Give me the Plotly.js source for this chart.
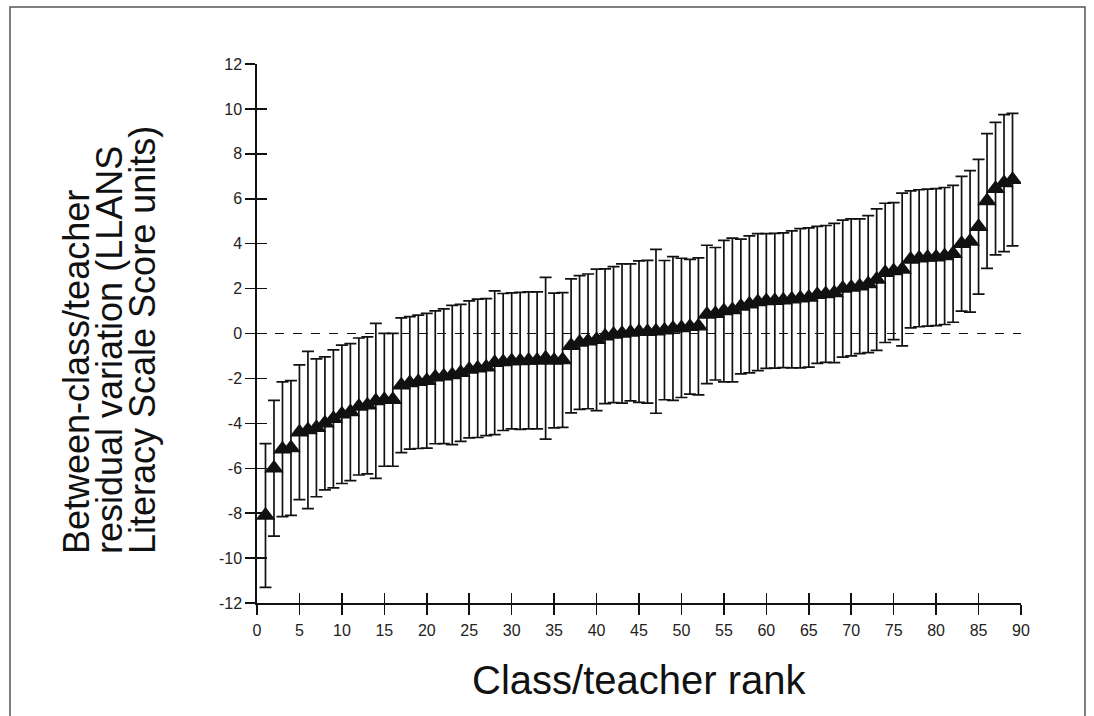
<!DOCTYPE html>
<html>
<head>
<meta charset="utf-8">
<script src="https://cdn.plot.ly/plotly-3.0.1.min.js"></script>
<style>
  html, body { margin: 0; padding: 0; background: #fff; }
  #chart { width: 1094px; height: 716px; }
</style>
</head>
<body>
<div id="chart"></div>
<script>
// Class/teacher rank
const ranks = [];
for (let i = 1; i <= 89; i++) ranks.push(i);

// Residual (LLANS Literacy Scale Score units)
const residuals = [
  -8.1, -6.0, -5.15, -5.1, -4.4, -4.3, -4.2, -4.0, -3.8, -3.6,
  -3.5, -3.25, -3.2, -3.0, -2.95, -2.95, -2.3, -2.2, -2.15, -2.1,
  -1.95, -1.9, -1.85, -1.75, -1.6, -1.55, -1.5, -1.3, -1.27, -1.22,
  -1.22, -1.2, -1.2, -1.1, -1.2, -1.18, -0.55, -0.4, -0.35, -0.28,
  -0.12, -0.05, 0.0, 0.05, 0.08, 0.08, 0.1, 0.15, 0.22, 0.25,
  0.3, 0.32, 0.85, 0.88, 1.0, 1.05, 1.2, 1.3, 1.4, 1.45,
  1.46, 1.48, 1.52, 1.57, 1.6, 1.72, 1.76, 1.8, 2.0, 2.05,
  2.1, 2.2, 2.4, 2.7, 2.78, 2.85, 3.3, 3.35, 3.38, 3.4,
  3.45, 3.55, 4.0, 4.1, 4.75, 5.9, 6.45, 6.7, 6.85
];

// Half-width of the error bars
const errors = [
  3.2, 3.02, 3.0, 3.0, 3.0, 3.5, 3.07, 2.96, 3.07, 3.08,
  3.05, 3.05, 3.05, 3.45, 2.96, 2.96, 3.0, 2.95, 2.97, 3.0,
  2.96, 3.0, 3.1, 3.05, 3.05, 3.08, 3.05, 3.2, 3.05, 3.03,
  3.05, 3.05, 3.05, 3.6, 3.0, 3.0, 2.98, 2.98, 3.0, 3.15,
  3.0, 3.03, 3.1, 3.05, 3.15, 3.18, 3.65, 3.1, 3.2, 3.1,
  3.0, 3.05, 3.08, 2.95, 3.15, 3.2, 3.0, 3.05, 3.05, 3.0,
  3.0, 3.0, 3.05, 3.1, 3.1, 3.05, 3.05, 3.1, 3.05, 3.05,
  3.0, 3.05, 3.15, 3.1, 3.05, 3.4, 3.05, 3.05, 3.05, 3.05,
  3.05, 3.05, 3.0, 3.15, 3.0, 3.0, 2.95, 3.05, 2.95
];

const xTickVals = [0, 5, 10, 15, 20, 25, 30, 35, 40, 45, 50, 55, 60, 65, 70, 75, 80, 85, 90];
const yTickVals = [-12, -10, -8, -6, -4, -2, 0, 2, 4, 6, 8, 10, 12];
const yTickText = ["-12", "-10", "-8", "-6", "-4", "-2", "0", "2", "4", "6", "8", "10", "12"];

const xTitle = 'Class/teacher rank';
const yTitleLines = ['Between-class/teacher', 'residual variation (LLANS', 'Literacy Scale Score units)'];

const ink = '#111111';
const fontFamily = 'Liberation Sans, Arial, Helvetica, sans-serif';

const traces = [
  {
    type: 'scatter',
    mode: 'markers',
    x: ranks,
    y: residuals,
    error_y: {
      type: 'data',
      array: errors,
      visible: true,
      color: ink,
      thickness: 1.7,
      width: 6
    },
    marker: { symbol: 'triangle-up', size: 17, color: ink, line: { width: 0 } },
    showlegend: false,
    hoverinfo: 'x+y'
  },
  {
    // invisible companion so the overlay axes (inner tick halves) are drawn
    type: 'scatter',
    mode: 'markers',
    x: ranks,
    y: residuals,
    xaxis: 'x2',
    yaxis: 'y2',
    marker: { opacity: 0 },
    showlegend: false,
    hoverinfo: 'skip'
  }
];

const axisCommon = {
  showgrid: false,
  zeroline: false,
  showline: true,
  linecolor: ink,
  linewidth: 1.7,
  tickcolor: ink,
  tickwidth: 1.5,
  ticklen: 10,
  ticks: 'outside',
  tickfont: { family: fontFamily, size: 16, color: '#222222' },
  fixedrange: true
};

// plot area: x 257..1021 px, y 64..603 px
const L = 257, R = 1021, T = 64, B = 603;
const px2paperX = p => (p - L) / (R - L);
const px2paperY = p => (B - p) / (B - T);

const annotations = [
  {
    text: xTitle, xref: 'paper', yref: 'paper',
    x: px2paperX(639), y: px2paperY(680), xanchor: 'center', yanchor: 'middle',
    showarrow: false, font: { family: fontFamily, size: 40, color: ink }
  }
];
const yTitleCols = [76, 109, 142];
yTitleLines.forEach((t, i) => {
  annotations.push({
    text: t, xref: 'paper', yref: 'paper',
    x: px2paperX(yTitleCols[i]), y: px2paperY(556), xanchor: 'center', yanchor: 'bottom',
    textangle: -90, showarrow: false, font: { family: fontFamily, size: 36, color: ink }
  });
});

const layout = {
  width: 1094,
  height: 716,
  margin: { l: L, r: 1094 - R, t: T, b: 716 - B },
  paper_bgcolor: '#ffffff',
  plot_bgcolor: '#ffffff',
  font: { family: fontFamily, color: ink },
  xaxis: Object.assign({}, axisCommon, {
    range: [0, 90],
    tickmode: 'array',
    tickvals: xTickVals,
    ticklabelstandoff: 2
  }),
  yaxis: Object.assign({}, axisCommon, {
    range: [-12, 12],
    tickmode: 'array',
    tickvals: yTickVals,
    ticktext: yTickText,
    ticklabelstandoff: 0
  }),
  xaxis2: {
    overlaying: 'x', anchor: 'y2', range: [0, 90], showgrid: false, zeroline: false,
    showline: false, ticks: 'inside', ticklen: 10, tickwidth: 1.5, tickcolor: ink,
    tickmode: 'array', tickvals: xTickVals, showticklabels: false, fixedrange: true
  },
  yaxis2: {
    overlaying: 'y', anchor: 'x2', range: [-12, 12], showgrid: false, zeroline: false,
    showline: false, ticks: 'inside', ticklen: 10, tickwidth: 1.5, tickcolor: ink,
    tickmode: 'array', tickvals: yTickVals, showticklabels: false, fixedrange: true
  },
  annotations: annotations,
  shapes: [
    {
      type: 'line', xref: 'x', yref: 'y', x0: 0, x1: 90, y0: 0, y1: 0,
      line: { color: ink, width: 1.2, dash: 'dash' }, layer: 'below'
    },
    {
      type: 'rect', xref: 'paper', yref: 'paper',
      x0: px2paperX(10), x1: px2paperX(1085), y0: px2paperY(722), y1: px2paperY(7),
      line: { color: '#555555', width: 1.5 }, fillcolor: 'rgba(0,0,0,0)'
    }
  ]
};

Plotly.newPlot('chart', traces, layout, { displayModeBar: false, staticPlot: true });
</script>
</body>
</html>
